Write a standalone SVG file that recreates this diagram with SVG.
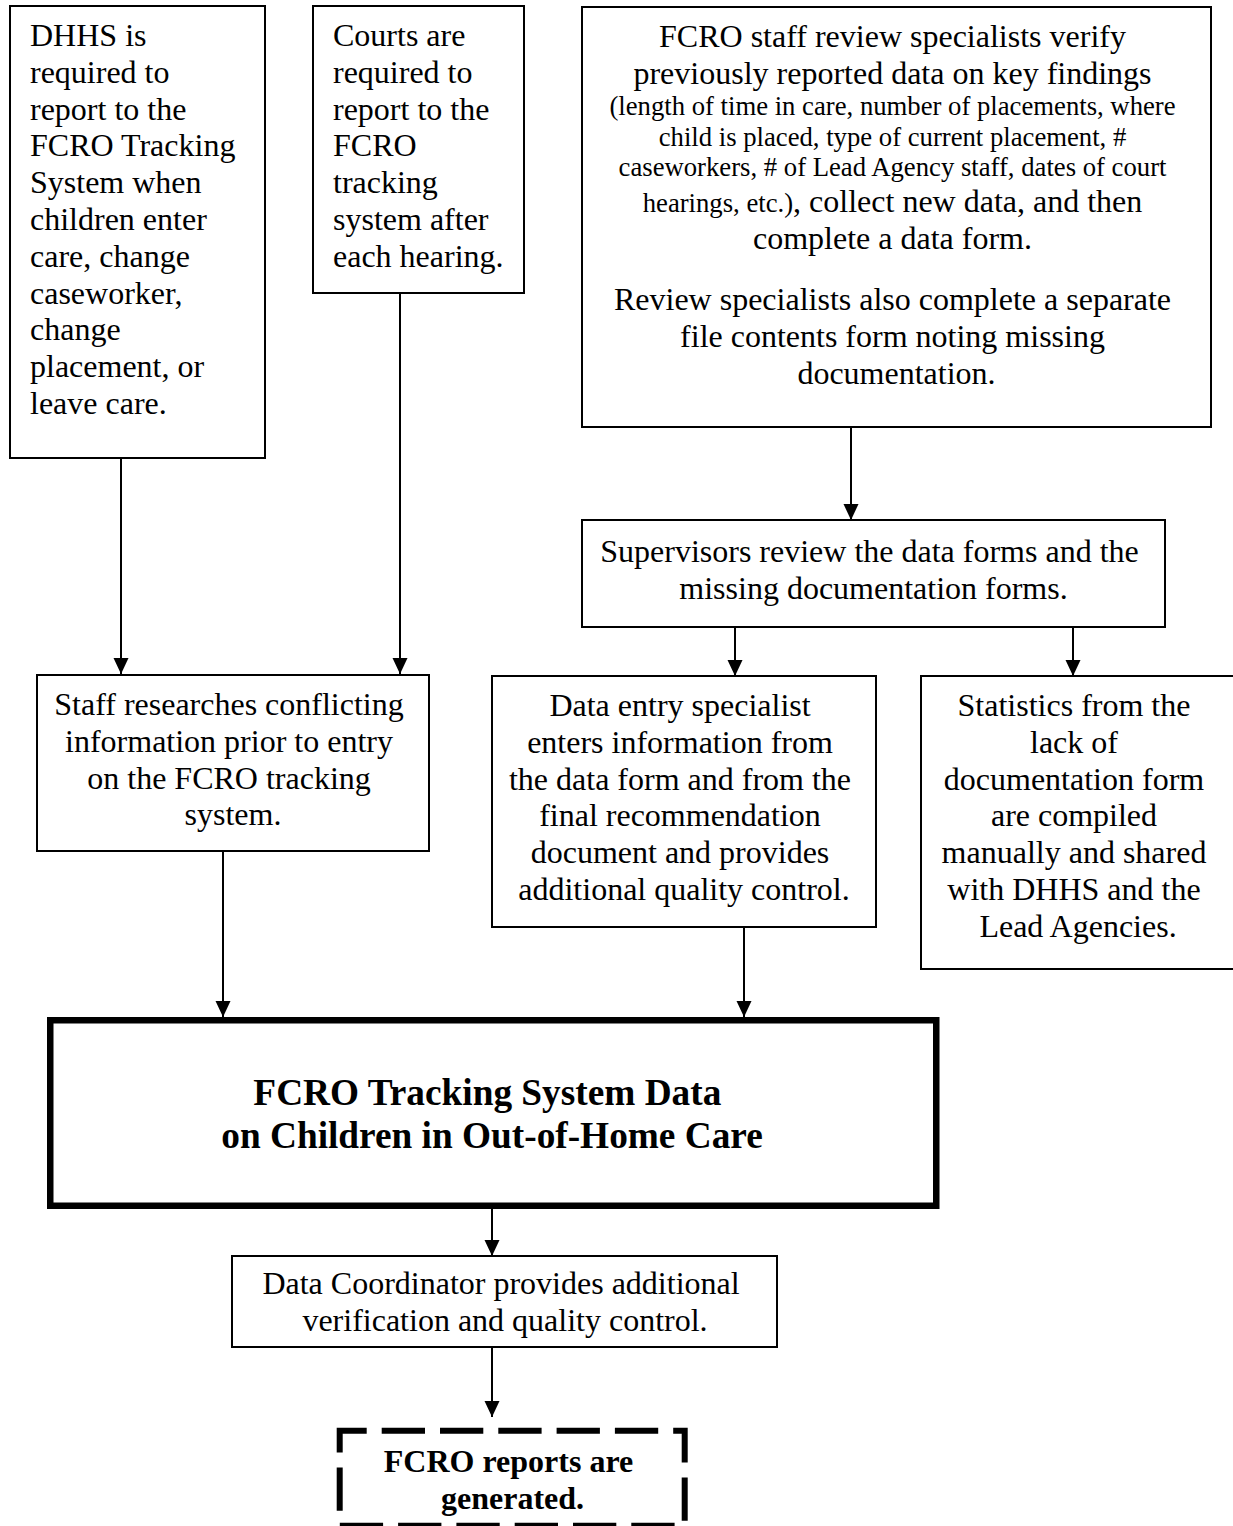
<svg xmlns="http://www.w3.org/2000/svg" width="1233" height="1526" viewBox="0 0 1233 1526">
<style>
.box{fill:#fff;stroke:#000;stroke-width:2}
.t{font-family:"Liberation Serif","Times New Roman",serif;font-size:32px;fill:#000}
.c{text-anchor:middle}
.s{font-size:26.7px}
.b{font-weight:bold}
.conn line{stroke:#000;stroke-width:2}
</style>
<defs>
<marker id="ah" markerUnits="userSpaceOnUse" markerWidth="16" markerHeight="16" viewBox="0 0 16 16" refX="16" refY="8" orient="auto">
<path d="M0,0.5 L16,8 L0,15.5 Z" fill="#000"/>
</marker>
</defs>
<rect width="1233" height="1526" fill="#fff"/>

<g id="connectors" class="conn">
<line x1="121" y1="458" x2="121" y2="674" marker-end="url(#ah)"/>
<line x1="400" y1="293" x2="400" y2="674" marker-end="url(#ah)"/>
<line x1="851" y1="428" x2="851" y2="520" marker-end="url(#ah)"/>
<line x1="735" y1="627" x2="735" y2="676" marker-end="url(#ah)"/>
<line x1="1073" y1="627" x2="1073" y2="676" marker-end="url(#ah)"/>
<line x1="223" y1="851" x2="223" y2="1017" marker-end="url(#ah)"/>
<line x1="744" y1="927" x2="744" y2="1017" marker-end="url(#ah)"/>
<line x1="492" y1="1209" x2="492" y2="1256" marker-end="url(#ah)"/>
<line x1="492" y1="1347" x2="492" y2="1417" marker-end="url(#ah)"/>
</g>

<g id="dhhs">
<rect class="box" x="10" y="6" width="255" height="452"/>
<text class="t">
<tspan x="30" y="46">DHHS is</tspan>
<tspan x="30" y="82.8">required to</tspan>
<tspan x="30" y="119.6">report to the</tspan>
<tspan x="30" y="156.4">FCRO Tracking</tspan>
<tspan x="30" y="193.2">System when</tspan>
<tspan x="30" y="230">children enter</tspan>
<tspan x="30" y="266.8">care, change</tspan>
<tspan x="30" y="303.6">caseworker,</tspan>
<tspan x="30" y="340.4">change</tspan>
<tspan x="30" y="377.2">placement, or</tspan>
<tspan x="30" y="414">leave care.</tspan>
</text>
</g>

<g id="courts">
<rect class="box" x="313" y="6" width="211" height="287"/>
<text class="t">
<tspan x="333" y="46">Courts are</tspan>
<tspan x="333" y="82.8">required to</tspan>
<tspan x="333" y="119.6">report to the</tspan>
<tspan x="333" y="156.4">FCRO</tspan>
<tspan x="333" y="193.2">tracking</tspan>
<tspan x="333" y="230">system after</tspan>
<tspan x="333" y="266.8">each hearing.</tspan>
</text>
</g>

<g id="fcro-staff">
<rect class="box" x="582" y="7" width="629" height="420"/>
<text class="t c">
<tspan x="896.5" y="47">FCRO staff review specialists verify</tspan>
<tspan x="896.5" y="83.8">previously reported data on key findings</tspan>
<tspan class="s" x="896.5" y="115">(length of time in care, number of placements, where</tspan>
<tspan class="s" x="896.5" y="145.7">child is placed, type of current placement, #</tspan>
<tspan class="s" x="896.5" y="176.4">caseworkers, # of Lead Agency staff, dates of court</tspan>
<tspan x="896.5" y="211.7"><tspan class="s">hearings, etc.)</tspan>, collect new data, and then</tspan>
<tspan x="896.5" y="248.5">complete a data form.</tspan>
<tspan x="896.5" y="310">Review specialists also complete a separate</tspan>
<tspan x="896.5" y="346.8">file contents form noting missing</tspan>
<tspan x="896.5" y="383.6">documentation.</tspan>
</text>
</g>

<g id="supervisors">
<rect class="box" x="582" y="520" width="583" height="107"/>
<text class="t c">
<tspan x="873.5" y="561.7">Supervisors review the data forms and the</tspan>
<tspan x="873.5" y="598.5">missing documentation forms.</tspan>
</text>
</g>

<g id="staff-researches">
<rect class="box" x="37" y="675" width="392" height="176"/>
<text class="t c">
<tspan x="233" y="715">Staff researches conflicting</tspan>
<tspan x="233" y="751.8">information prior to entry</tspan>
<tspan x="233" y="788.6">on the FCRO tracking</tspan>
<tspan x="233" y="825.4">system.</tspan>
</text>
</g>

<g id="data-entry">
<rect class="box" x="492" y="676" width="384" height="251"/>
<text class="t c">
<tspan x="684" y="716">Data entry specialist</tspan>
<tspan x="684" y="752.8">enters information from</tspan>
<tspan x="684" y="789.6">the data form and from the</tspan>
<tspan x="684" y="826.4">final recommendation</tspan>
<tspan x="684" y="863.2">document and provides</tspan>
<tspan x="684" y="900">additional quality control.</tspan>
</text>
</g>

<g id="statistics">
<rect class="box" x="921" y="676" width="316" height="293"/>
<text class="t c">
<tspan x="1078" y="716">Statistics from the</tspan>
<tspan x="1078" y="752.8">lack of</tspan>
<tspan x="1078" y="789.6">documentation form</tspan>
<tspan x="1078" y="826.4">are compiled</tspan>
<tspan x="1078" y="863.2">manually and shared</tspan>
<tspan x="1078" y="900">with DHHS and the</tspan>
<tspan x="1078" y="936.8">Lead Agencies.</tspan>
</text>
</g>

<g id="tracking-system">
<rect x="50.25" y="1020.25" width="886" height="185.5" fill="#fff" stroke="#000" stroke-width="6.5"/>
<text class="t c b" style="font-size:37.3px">
<tspan x="492" y="1105">FCRO Tracking System Data</tspan>
<tspan x="492" y="1148">on Children in Out-of-Home Care</tspan>
</text>
</g>

<g id="data-coordinator">
<rect class="box" x="232" y="1256" width="545" height="91"/>
<text class="t c">
<tspan x="505" y="1294">Data Coordinator provides additional</tspan>
<tspan x="505" y="1330.8">verification and quality control.</tspan>
</text>
</g>

<g id="reports">
<rect x="339.7" y="1430.7" width="345" height="95" fill="#fff" stroke="#000" stroke-width="6" stroke-dasharray="43.3 15" stroke-dashoffset="16.3"/>
<text class="t c b">
<tspan x="512.5" y="1471.7">FCRO reports are</tspan>
<tspan x="512.5" y="1508.5">generated.</tspan>
</text>
</g>
</svg>
